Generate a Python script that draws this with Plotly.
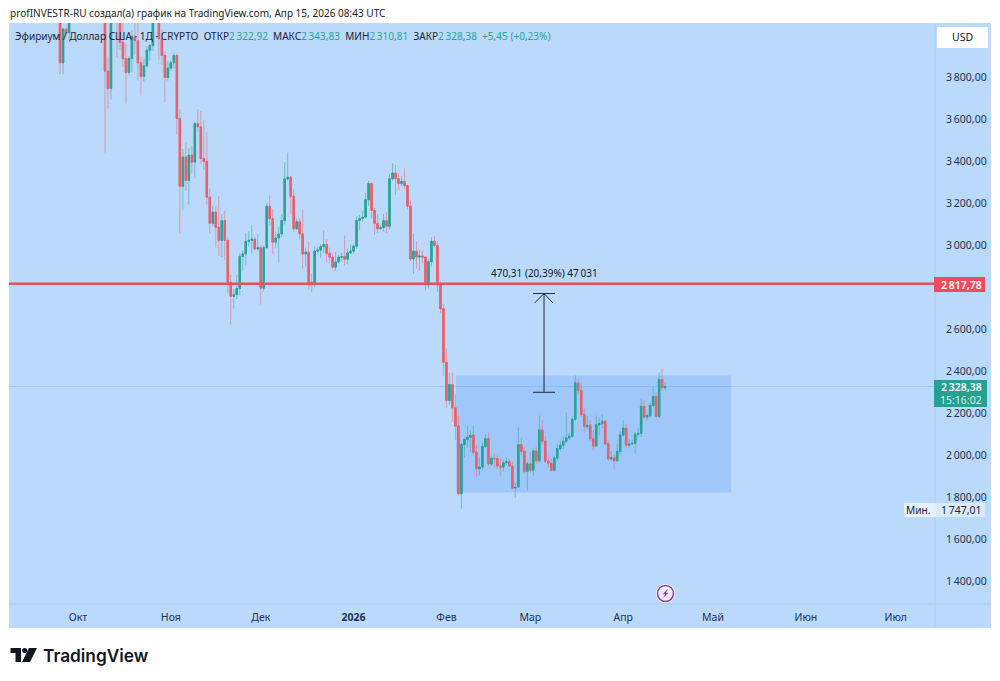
import pandas as pd
import plotly.graph_objects as go

first_day = "2025-09-25"

open_ = [
    4150, 3870, 4030, 4012, 4140, 4215,
    4145, 4350, 4490, 4515, 4490, 4515, 4690, 4450, 4525, 4370, 3830, 3748, 4155, 4250, 4125, 3967, 3890, 3824, 3890, 3995, 3975, 3870, 3805, 3855, 3930, 3952, 4155, 4120, 3985, 3905, 3800,
    3845, 3870, 3905, 3605, 3282, 3421, 3310, 3430, 3397, 3580, 3565, 3415, 3400, 3230, 3106, 3159, 3087, 3024, 3119, 3024, 2825, 2758, 2767, 2795, 2948, 2960, 3020, 3025, 3030, 2984,
    2990, 2797, 2990, 3187, 3128, 3016, 3036, 3055, 3119, 3317, 3325, 3235, 3080, 3113, 3055, 2960, 2968, 2825, 2822, 2973, 2978, 2995, 3005, 2962, 2944, 2897, 2922, 2944, 2947, 2935, 2965,
    2973, 2997, 3119, 3128, 3135, 3218, 3295, 3167, 3105, 3080, 3085, 3118, 3092, 3318, 3345, 3318, 3295, 3305, 3285, 3187, 2936, 2973, 2945, 2950, 2945, 2813, 2923, 3020, 3000, 2813, 2699,
    2444, 2262, 2338, 2227, 2140, 1818, 2052, 2076, 2087, 2098, 2016, 1937, 1945, 2043, 2080, 1960, 1987, 1985, 1950, 1945, 1965, 1970, 1950, 1845, 1850, 2052, 2020, 1924,
    1960, 1930, 2022, 1975, 2122, 2068, 1973, 1963, 1930, 1988, 2033, 2049, 2068, 2084, 2092, 2172, 2346, 2310, 2195, 2138, 2144, 2080, 2045, 2146, 2152, 2163, 2056, 1984, 1990, 1975, 2019,
    2098, 2130, 2049, 2055, 2058, 2101, 2105, 2234, 2183, 2190, 2238, 2281, 2186, 2362, 2322.92,
]
high = [
    4160, 4040, 4040, 4145, 4240, 4230,
    4360, 4510, 4540, 4535, 4590, 4755, 4750, 4530, 4530, 4395, 3900, 4180, 4290, 4295, 4215, 4080, 3960, 3900, 4025, 4060, 4100, 3900, 3890, 3950, 3960, 4180, 4250, 4150, 4030, 3925, 3880,
    3880, 3920, 3915, 3650, 3460, 3490, 3465, 3475, 3590, 3650, 3640, 3595, 3540, 3270, 3190, 3190, 3235, 3150, 3165, 3040, 2860, 2790, 2860, 2965, 2975, 3060, 3070, 3095, 3040, 3055,
    3000, 3000, 3200, 3238, 3175, 3065, 3090, 3150, 3397, 3443, 3330, 3270, 3128, 3130, 3170, 2990, 3020, 2865, 2995, 2995, 3005, 3071, 3030, 2990, 2965, 2970, 2955, 2965, 3048, 2985, 3005,
    3005, 3138, 3145, 3165, 3250, 3307, 3300, 3180, 3150, 3100, 3150, 3160, 3340, 3392, 3385, 3345, 3330, 3367, 3290, 3215, 3058, 3020, 2980, 2975, 2950, 2935, 3040, 3045, 3020, 2830, 2720,
    2510, 2395, 2395, 2290, 2190, 2060, 2085, 2143, 2120, 2140, 2050, 1995, 2065, 2100, 2110, 2000, 2010, 2000, 1990, 1980, 1990, 1985, 1970, 1870, 2134, 2085, 2040, 1970,
    2015, 2035, 2045, 2190, 2170, 2090, 2000, 1985, 2000, 2055, 2070, 2090, 2205, 2110, 2185, 2381, 2370, 2345, 2225, 2190, 2170, 2120, 2190, 2180, 2195, 2170, 2070, 2020, 2005, 2055, 2115,
    2167, 2150, 2080, 2075, 2110, 2130, 2273, 2265, 2200, 2250, 2325, 2300, 2395, 2414, 2343.83,
]
low = [
    3815, 3815, 3990, 3985, 4085, 4090,
    4135, 4340, 4440, 4445, 4470, 4490, 4430, 4375, 4300, 3443, 3652, 3695, 4075, 3895, 3935, 3850, 3676, 3810, 3825, 3910, 3785, 3714, 3780, 3850, 3880, 3925, 4110, 3885, 3860, 3681, 3785,
    3830, 3840, 3530, 3058, 3167, 3260, 3195, 3345, 3320, 3540, 3390, 3360, 3195, 3055, 3090, 2990, 2950, 2945, 2930, 2775, 2624, 2700, 2745, 2765, 2880, 2905, 2995, 2960, 2975, 2975,
    2719, 2780, 2985, 3095, 2960, 2985, 2920, 3040, 3100, 3310, 3150, 3065, 3075, 3030, 2890, 2900, 2790, 2778, 2800, 2960, 2940, 2965, 2920, 2915, 2885, 2880, 2915, 2925, 2905, 2910, 2960,
    2960, 2985, 3075, 3115, 3130, 3190, 3130, 3050, 3060, 3075, 3065, 3060, 3075, 3310, 3240, 3265, 3285, 3270, 3170, 2925, 2867, 2890, 2880, 2915, 2785, 2795, 2900, 2990, 2780, 2680, 2380,
    2225, 2240, 2160, 2075, 1810, 1747, 1990, 2040, 2015, 2000, 1897, 1905, 1930, 2035, 1950, 1950, 1945, 1935, 1905, 1925, 1955, 1945, 1840, 1800, 1845, 2000, 1915, 1833,
    1920, 1905, 1960, 1965, 2050, 1965, 1945, 1925, 1925, 1975, 2020, 2030, 2060, 2075, 2085, 2165, 2290, 2185, 2110, 2125, 2070, 2025, 2040, 2100, 2130, 2045, 1975, 1975, 1937, 1970, 2005,
    2090, 2035, 2035, 2050, 2010, 2085, 2090, 2175, 2170, 2180, 2230, 2180, 2180, 2310, 2310.81,
]
close = [
    3870, 4030, 4012, 4140, 4215, 4145,
    4350, 4490, 4515, 4490, 4515, 4690, 4450, 4525, 4370, 3830, 3748, 4155, 4250, 4125, 3967, 3890, 3824, 3890, 3995, 3975, 3870, 3805, 3855, 3930, 3952, 4155, 4120, 3985, 3905, 3800, 3845,
    3870, 3905, 3605, 3282, 3421, 3310, 3430, 3397, 3580, 3565, 3415, 3400, 3230, 3106, 3159, 3087, 3024, 3119, 3024, 2825, 2758, 2767, 2795, 2948, 2960, 3020, 3025, 3030, 2984, 2990,
    2797, 2990, 3187, 3128, 3016, 3036, 3055, 3119, 3317, 3325, 3235, 3080, 3113, 3055, 2960, 2968, 2825, 2822, 2973, 2978, 2995, 3005, 2962, 2944, 2897, 2922, 2944, 2947, 2935, 2965, 2973,
    2997, 3119, 3128, 3135, 3218, 3295, 3167, 3105, 3080, 3085, 3118, 3092, 3318, 3345, 3318, 3295, 3305, 3285, 3187, 2936, 2973, 2945, 2950, 2945, 2813, 2923, 3020, 3000, 2813, 2699, 2444,
    2262, 2338, 2227, 2140, 1818, 2052, 2076, 2087, 2095, 2016, 1937, 1945, 2043, 2080, 1960, 1987, 1985, 1950, 1945, 1965, 1970, 1950, 1845, 1848, 2052, 2020, 1924, 1960,
    1930, 2022, 1975, 2122, 2068, 1973, 1963, 1930, 1988, 2033, 2049, 2068, 2084, 2092, 2172, 2346, 2310, 2195, 2138, 2144, 2080, 2045, 2146, 2152, 2163, 2056, 1984, 1990, 1975, 2019, 2098,
    2130, 2049, 2055, 2058, 2101, 2105, 2234, 2183, 2190, 2238, 2281, 2186, 2362, 2323, 2328.38,
]

price_ticks = [3800, 3600, 3400, 3200, 3000, 2600, 2400, 2200, 2000, 1800, 1600, 1400]
price_labels = ["3\u2009800,00", "3\u2009600,00", "3\u2009400,00", "3\u2009200,00", "3\u2009000,00",
                "2\u2009600,00", "2\u2009400,00", "2\u2009200,00", "2\u2009000,00", "1\u2009800,00",
                "1\u2009600,00", "1\u2009400,00"]
month_ticks = ["2025-10-01", "2025-11-01", "2025-12-01", "2026-01-01", "2026-02-01", "2026-03-01",
               "2026-04-01", "2026-05-01", "2026-06-01", "2026-07-01"]
month_labels = ["Окт", "Ноя", "Дек", "<b>2026</b>", "Фев", "Мар", "Апр", "Май", "Июн", "Июл"]

level_price = 2817.78
last_price = 2328.38
box_dates = ["2026-02-04 05:00", "2026-05-07"]
box_prices = [1824, 2381]
measure_date = "2026-03-05 14:00"
measure_prices = [2301, 2771.31]
cap_dates = ["2026-03-01 22:00", "2026-03-09 06:00"]
head_dates = ["2026-03-02 12:00", "2026-03-08 12:00"]
head_price = 2727

BG = "#BBD9FB"
INK = "#1f2a3d"
TXT = "#23324d"
GREEN = "#2AA295"
RED = "#E8606A"
FONT = "Noto Sans"

dates = pd.date_range(first_day, periods=len(close), freq="D")
body_high = [max(o, c) for o, c in zip(open_, close)]
body_low = [min(o, c) for o, c in zip(open_, close)]

px = lambda x: x / 1000
py = lambda y: 1 - y / 681


def prect(x0, y0, x1, y1, fill, line=None, layer="above"):
    return dict(type="rect", xref="paper", yref="paper", x0=px(x0), x1=px(x1), y0=py(y0), y1=py(y1),
                fillcolor=fill, line=dict(width=0 if line is None else 1, color=line or fill), layer=layer)


def ppath(points, fill):
    d = "M " + " L ".join(f"{px(a)},{py(b)}" for a, b in points) + " Z"
    return dict(type="path", xref="paper", yref="paper", path=d, fillcolor=fill, line=dict(width=0), layer="above")


def pcircle(cx, cy, r, fill, line=None, w=0):
    return dict(type="circle", xref="paper", yref="paper", x0=px(cx - r), x1=px(cx + r), y0=py(cy + r), y1=py(cy - r),
                fillcolor=fill, line=dict(width=w, color=line or fill), layer="above")


def ptext(x, y, text, size=10.5, color=TXT, anchor="left", family=FONT, weight=None):
    f = dict(family=family, size=size, color=color)
    if weight:
        f["weight"] = weight
    return dict(xref="paper", yref="paper", x=px(x), y=py(y), text=text, showarrow=False, xanchor=anchor,
                yanchor="middle", font=f, borderpad=0, align="left" if anchor == "left" else "center")


fig = go.Figure()
fig.add_trace(go.Candlestick(
    x=dates, open=open_, high=high, low=low, close=close, whiskerwidth=0, hoverinfo="skip",
    increasing=dict(line=dict(color="rgba(42,162,149,0.5)", width=1), fillcolor="rgba(0,0,0,0)"),
    decreasing=dict(line=dict(color="rgba(232,96,106,0.5)", width=1), fillcolor="rgba(0,0,0,0)"),
))
fig.add_trace(go.Candlestick(
    x=dates, open=open_, high=body_high, low=body_low, close=close, whiskerwidth=0, hoverinfo="skip",
    increasing=dict(line=dict(color=GREEN, width=1), fillcolor=GREEN),
    decreasing=dict(line=dict(color=RED, width=1), fillcolor=RED),
))

shapes = [
    prect(9, 23, 991, 628, BG, layer="below"),
    dict(type="rect", xref="x", yref="y", x0=box_dates[0], x1=box_dates[1], y0=box_prices[0], y1=box_prices[1],
         fillcolor="rgba(50,130,245,0.2)", line=dict(width=0), layer="below"),
    dict(type="line", xref="paper", yref="y", x0=px(9), x1=px(935), y0=last_price, y1=last_price,
         line=dict(color="rgba(38,166,154,0.2)", width=1), layer="below"),
    dict(type="line", xref="paper", yref="y", x0=px(9), x1=px(935), y0=level_price, y1=level_price,
         line=dict(color="#E8505F", width=2.5), layer="above"),
    dict(type="line", xref="x", yref="y", x0=measure_date, x1=measure_date, y0=measure_prices[0], y1=measure_prices[1],
         line=dict(color=INK, width=1), layer="above"),
    dict(type="line", xref="x", yref="y", x0=cap_dates[0], x1=cap_dates[1], y0=measure_prices[0], y1=measure_prices[0],
         line=dict(color=INK, width=1), layer="above"),
    dict(type="line", xref="x", yref="y", x0=cap_dates[0], x1=cap_dates[1], y0=measure_prices[1], y1=measure_prices[1],
         line=dict(color=INK, width=1), layer="above"),
    dict(type="line", xref="x", yref="y", x0=measure_date, x1=head_dates[0], y0=measure_prices[1], y1=head_price,
         line=dict(color=INK, width=1), layer="above"),
    dict(type="line", xref="x", yref="y", x0=measure_date, x1=head_dates[1], y0=measure_prices[1], y1=head_price,
         line=dict(color=INK, width=1), layer="above"),
    # axis separators
    dict(type="line", xref="paper", yref="paper", x0=px(9), x1=px(991), y0=py(604), y1=py(604),
         line=dict(color="#A9CDF5", width=1), layer="above"),
    dict(type="line", xref="paper", yref="paper", x0=px(935), x1=px(935), y0=py(23), y1=py(628),
         line=dict(color="#A9CDF5", width=1), layer="above"),
    # price tags
    prect(937, 27, 988, 48, "#FFFFFF"),
    prect(934, 277, 985, 292, "#EE4B5C"),
    prect(934, 380, 987, 407, "#26A08F"),
    prect(904, 503, 936, 517, "rgba(255,255,255,0.65)"),
    prect(936, 503, 985, 517, "rgba(255,255,255,0.45)"),
    # lightning marker
    pcircle(665.5, 593.5, 9.5, "#FFFFFF"),
    pcircle(665.5, 593.5, 8, "#F3ECF8", "#7B3FA5", 1.5),
    ppath([(668.5, 588.5), (662.5, 594.3), (665.3, 594.3), (662.5, 598.5), (668.5, 592.7), (665.7, 592.7)], "#7B3FA5"),
    # TradingView logo
    ppath([(10.5, 648), (21, 648), (21, 662), (15.5, 662), (15.5, 653), (10.5, 653)], "#131722"),
    pcircle(24.7, 650.5, 2.5, "#131722"),
    ppath([(29, 648), (37, 648), (30, 662), (22, 662)], "#131722"),
]

legend = ("Эфириум / Доллар США · 1Д · CRYPTO  ОТКР<span style='color:#2aa295'>2\u2009322,92</span>  "
          "МАКС<span style='color:#2aa295'>2\u2009343,83</span>  МИН<span style='color:#2aa295'>2\u2009310,81</span>  "
          "ЗАКР<span style='color:#2aa295'>2\u2009328,38  +5,45 (+0,23%)</span>")

annotations = [
    ptext(9, 13, "profINVESTR-RU создал(а) график на TradingView.com, Апр 15, 2026 08:43 UTC", size=10.05, color="#222222"),
    ptext(14, 36, legend, size=10.05, color="#1b2436"),
    ptext(962.5, 37.5, "USD", size=10.5, color="#131722", anchor="center"),
    ptext(961, 284.5, "2\u2009817,78", size=10.5, color="#FFFFFF", anchor="center", weight=600),
    ptext(961, 387, "2\u2009328,38", size=10.5, color="#FFFFFF", anchor="center", weight=600),
    ptext(961, 400, "15:16:02", size=10.5, color="#D5F1EC", anchor="center"),
    ptext(918, 510, "Мин.", size=10.2, color="#1b2436", anchor="center"),
    ptext(961, 510, "1\u2009747,01", size=10.5, color="#1b2436", anchor="center"),
    ptext(544, 272.5, "470,31 (20,39%) 47\u2009031", size=10.0, color="#131722", anchor="center"),
    ptext(42, 655.5, "TradingView", size=17.3, color="#131722", family="Inter", weight=600),
]

fig.update_layout(
    width=1000, height=681, autosize=False, margin=dict(l=0, r=0, t=0, b=0),
    paper_bgcolor="#FFFFFF", plot_bgcolor=BG, showlegend=False, shapes=shapes, annotations=annotations,
    font=dict(family=FONT, size=10.5, color=TXT),
    xaxis=dict(domain=[px(9), px(935)], type="date", range=["2025-09-07 23:00", "2026-07-14 02:30"],
               tickmode="array", tickvals=month_ticks, ticktext=month_labels, showgrid=False, zeroline=False,
               showline=False, ticks="outside", ticklen=3, tickcolor="rgba(0,0,0,0)", tickangle=0,
               rangeslider=dict(visible=False), tickfont=dict(family=FONT, size=10.5, color=TXT)),
    yaxis=dict(domain=[py(604), py(23)], side="right", range=[1292.9, 4059.5], tickmode="array",
               tickvals=price_ticks, ticktext=price_labels, showgrid=False, zeroline=False, showline=False,
               ticks="outside", ticklen=8, tickcolor="rgba(0,0,0,0)", tickfont=dict(family=FONT, size=10.5, color=TXT)),
)

fig.write_html("out.html", config=dict(displayModeBar=False),
               post_script="document.body.style.margin='0';document.body.style.overflow='hidden';")
